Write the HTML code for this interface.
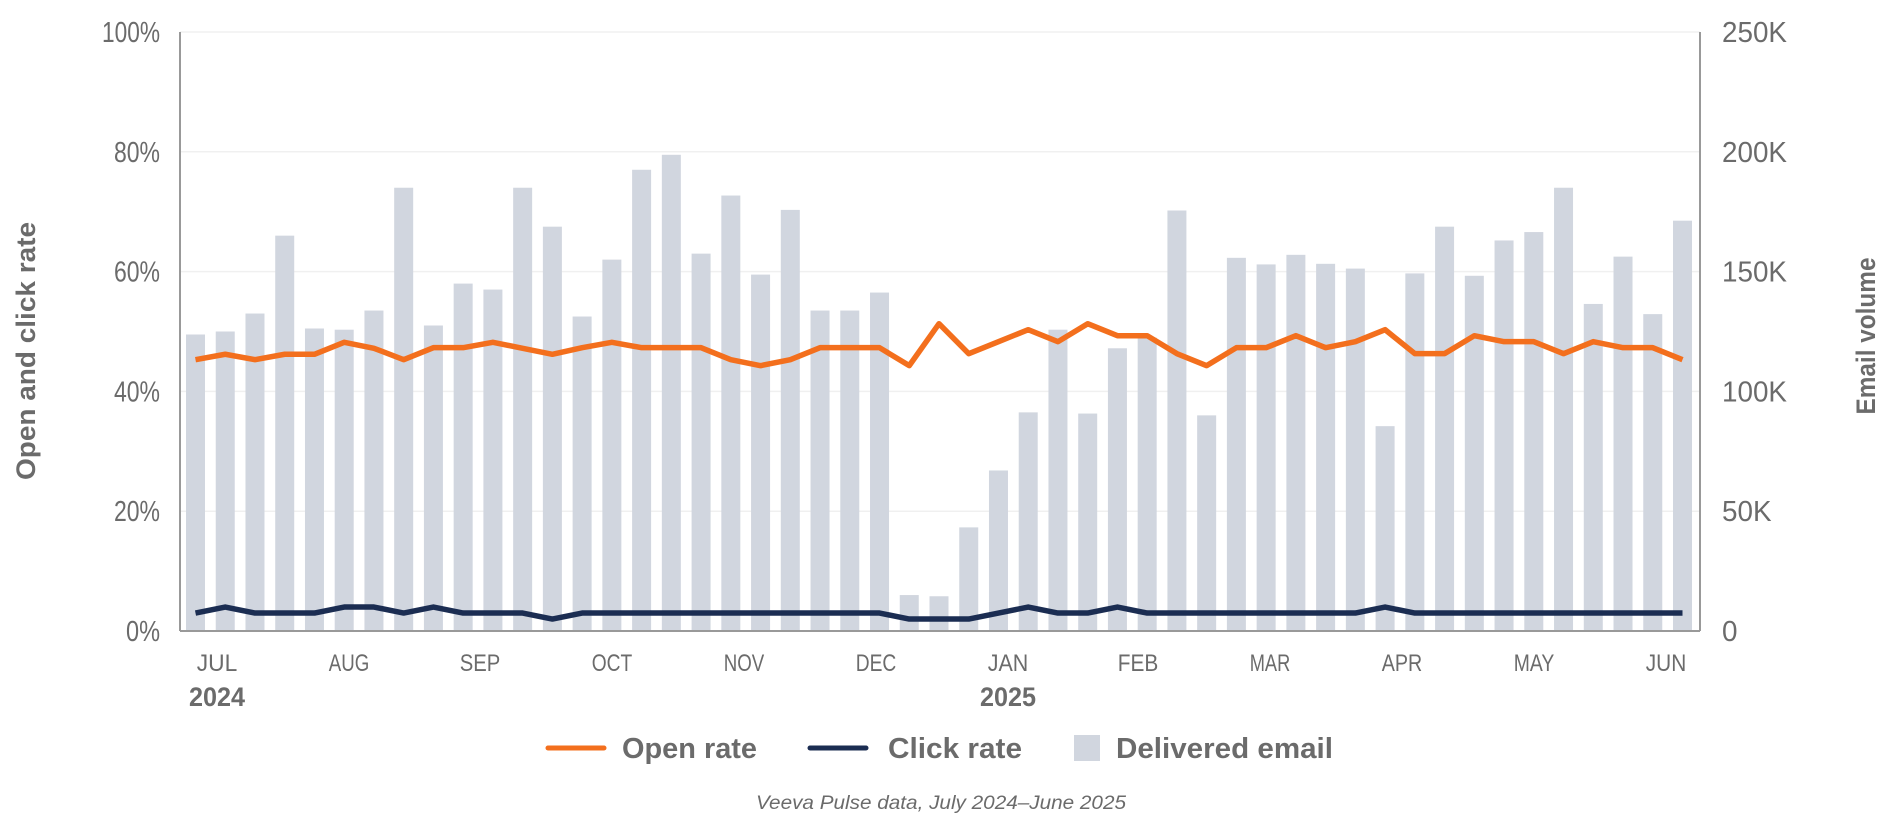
<!DOCTYPE html>
<html><head><meta charset="utf-8"><style>
html,body{margin:0;padding:0;background:#fff;}
svg{display:block;font-family:"Liberation Sans",sans-serif;}
</style></head><body>
<svg id="c" width="1880" height="829" xmlns="http://www.w3.org/2000/svg"></svg>
<script>
var bars=[49.5,50,53,66,50.5,50.3,53.5,74,51,58,57,74,67.5,52.5,62,77,79.5,63,72.7,59.5,70.3,53.5,53.5,56.5,6,5.8,17.3,26.8,36.5,50.3,36.3,47.2,49,70.2,36,62.3,61.2,62.8,61.3,60.5,34.2,59.7,67.5,59.3,65.2,66.6,74,54.6,62.5,52.9,68.5];
var open=[45.3,46.2,45.3,46.2,46.2,48.2,47.2,45.3,47.3,47.3,48.2,47.2,46.2,47.3,48.2,47.3,47.3,47.3,45.3,44.3,45.3,47.3,47.3,47.3,44.3,51.3,46.3,48.3,50.3,48.3,51.3,49.3,49.3,46.3,44.3,47.3,47.3,49.3,47.3,48.3,50.3,46.3,46.3,49.3,48.3,48.3,46.3,48.3,47.3,47.3,45.3];
var click=[];for(var i=0;i<51;i++)click.push(3);
[1,5,6,8,28,31,40].forEach(function(i){click[i]=4;});
[12,24,25,26].forEach(function(i){click[i]=2;});
var L=180,R=1700,T=32,B=631,H=B-T;
function y(p){return B-p/100*H;}
function cx(i){return 195.5+i*29.74;}
var s='';
for(var k=1;k<=5;k++){s+='<line x1="'+L+'" x2="'+R+'" y1="'+y(k*20)+'" y2="'+y(k*20)+'" stroke="#f0f0f0" stroke-width="1.5"/>';}
bars.forEach(function(b,i){s+='<rect x="'+(cx(i)-9.5)+'" y="'+y(b)+'" width="19" height="'+(B-y(b))+'" fill="#d1d6df"/>';});
s+='<line x1="'+L+'" y1="'+T+'" x2="'+L+'" y2="'+B+'" stroke="#999" stroke-width="2"/>';
s+='<line x1="'+R+'" y1="'+T+'" x2="'+R+'" y2="'+B+'" stroke="#999" stroke-width="2"/>';
s+='<line x1="'+L+'" y1="'+B+'" x2="'+R+'" y2="'+B+'" stroke="#999" stroke-width="2"/>';
function pl(a,c){return '<polyline fill="none" stroke="'+c+'" stroke-width="5.5" stroke-linejoin="round" points="'+a.map(function(v,i){return cx(i)+','+y(v);}).join(' ')+'"/>';}
s+=pl(open,'#f36f1d')+pl(click,'#1b2d52');
var lt=['0%','20%','40%','60%','80%','100%'],rt=['0','50K','100K','150K','200K','250K'];
function lw(t){var w=0;for(var j=0;j<t.length;j++){var ch=t[j];w+=(ch=='%')?22:(ch=='K'?18.5:(t.indexOf('%')>=0?12:15.5));}return w;}
for(var k=0;k<6;k++){
s+='<text x="160" y="'+(y(k*20)+10)+'" text-anchor="end" font-size="29" fill="#6b6b6b" textLength="'+lw(lt[k])+'" lengthAdjust="spacingAndGlyphs">'+lt[k]+'</text>';
s+='<text x="1722" y="'+(y(k*20)+10)+'" font-size="29" fill="#6b6b6b" textLength="'+lw(rt[k])+'" lengthAdjust="spacingAndGlyphs">'+rt[k]+'</text>';}
var m=[['JUL',217],['AUG',349],['SEP',480],['OCT',612],['NOV',744],['DEC',876],['JAN',1008],['FEB',1138],['MAR',1270],['APR',1402],['MAY',1534],['JUN',1666]];
m.forEach(function(a){s+='<text x="'+a[1]+'" y="671" text-anchor="middle" font-size="24" fill="#6b6b6b" textLength="'+(a[0].length*13.5)+'" lengthAdjust="spacingAndGlyphs">'+a[0]+'</text>';});
s+='<text x="217" y="706" text-anchor="middle" font-size="27" font-weight="bold" fill="#6b6b6b" textLength="56" lengthAdjust="spacingAndGlyphs">2024</text>';
s+='<text x="1008" y="706" text-anchor="middle" font-size="27" font-weight="bold" fill="#6b6b6b" textLength="56" lengthAdjust="spacingAndGlyphs">2025</text>';
s+='<text transform="translate(35,351) rotate(-90)" text-anchor="middle" font-size="27" font-weight="bold" fill="#6b6b6b" textLength="258" lengthAdjust="spacingAndGlyphs">Open and click rate</text>';
s+='<text transform="translate(1875,336) rotate(-90)" text-anchor="middle" font-size="27" font-weight="bold" fill="#6b6b6b" textLength="157" lengthAdjust="spacingAndGlyphs">Email volume</text>';
s+='<line x1="548" x2="604" y1="748" y2="748" stroke="#f36f1d" stroke-width="5" stroke-linecap="round"/>';
s+='<text x="622" y="758" font-size="29" font-weight="bold" fill="#6b6b6b" textLength="135" lengthAdjust="spacingAndGlyphs">Open rate</text>';
s+='<line x1="810" x2="866" y1="748" y2="748" stroke="#1b2d52" stroke-width="5" stroke-linecap="round"/>';
s+='<text x="888" y="758" font-size="29" font-weight="bold" fill="#6b6b6b" textLength="134" lengthAdjust="spacingAndGlyphs">Click rate</text>';
s+='<rect x="1074" y="735" width="26" height="26" fill="#d1d6df"/>';
s+='<text x="1116" y="758" font-size="29" font-weight="bold" fill="#6b6b6b" textLength="217" lengthAdjust="spacingAndGlyphs">Delivered email</text>';
s+='<text x="941" y="809" text-anchor="middle" font-size="19" font-style="italic" fill="#6b6b6b" textLength="370" lengthAdjust="spacingAndGlyphs">Veeva Pulse data, July 2024–June 2025</text>';
document.getElementById('c').innerHTML=s;
</script>
</body></html>
